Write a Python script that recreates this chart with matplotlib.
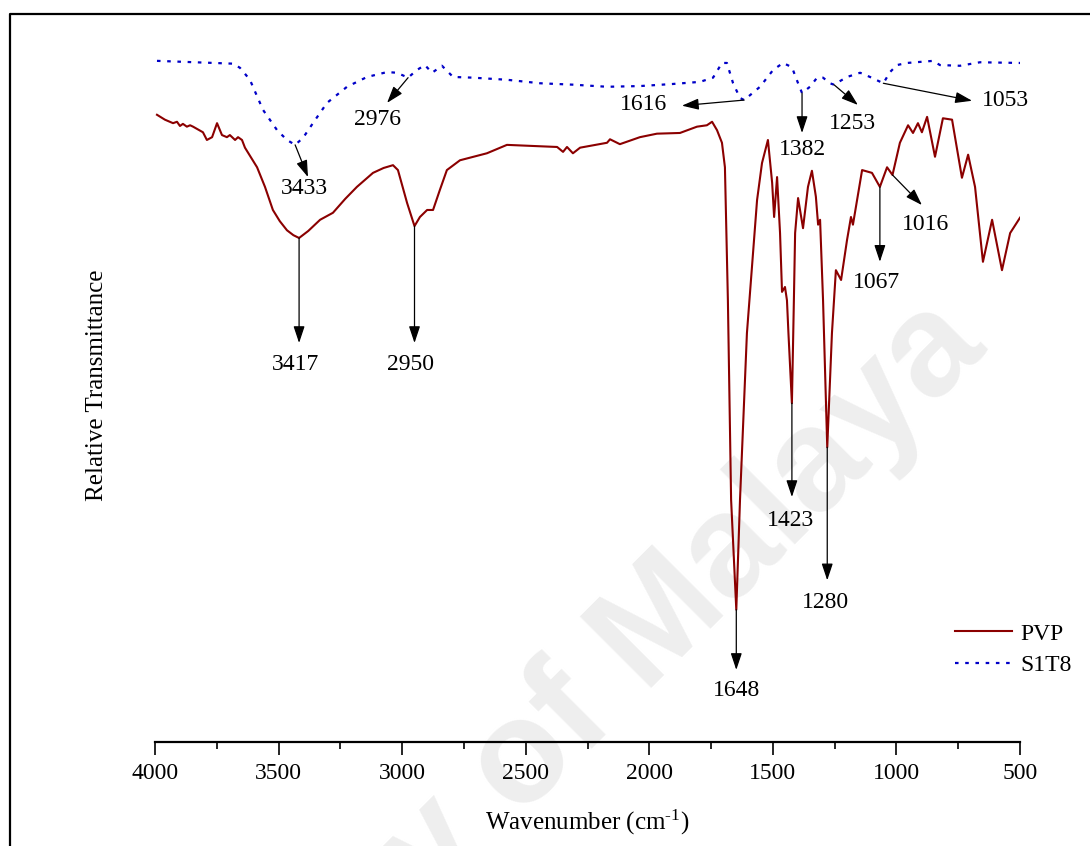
import numpy as np
import matplotlib
matplotlib.use("Agg")
import matplotlib.pyplot as plt
from matplotlib.lines import Line2D
from matplotlib.ticker import MultipleLocator

plt.rcParams["font.family"] = "Liberation Serif"
plt.rcParams["mathtext.default"] = "regular"

# FTIR spectra: wavenumber (cm-1) and relative transmittance (a.u.)
pvp_wn = [3992, 3960, 3927, 3911, 3899, 3887, 3871, 3858, 3846, 3806, 3790, 3769,
          3749, 3729, 3709, 3697, 3676, 3664, 3648, 3636, 3587, 3555, 3523, 3495,
          3466, 3440, 3417, 3380, 3332, 3280, 3230, 3183, 3118, 3075, 3037, 3017,
          2980, 2950, 2928, 2899, 2875, 2847, 2819, 2766, 2657, 2576, 2442, 2373,
          2349, 2333, 2309, 2280, 2171, 2159, 2119, 2038, 1969, 1876, 1807, 1767,
          1746, 1726, 1706, 1694, 1682, 1669, 1648, 1633, 1605, 1564, 1544, 1520,
          1503, 1495, 1483, 1471, 1463, 1451, 1443, 1437, 1423, 1415, 1410, 1398,
          1378, 1358, 1342, 1326, 1317, 1309, 1297, 1280, 1261, 1245, 1224, 1200,
          1184, 1176, 1139, 1099, 1067, 1038, 1016, 986, 953, 933, 913, 897, 876,
          844, 812, 775, 735, 710, 682, 650, 613, 573, 540, 500]
pvp_t = [89.6, 88.9, 88.4, 88.6, 88.0, 88.3, 87.9, 88.1, 87.9, 87.1, 86.0, 86.4,
         88.4, 86.7, 86.4, 86.7, 86.0, 86.4, 86.0, 84.9, 82.1, 79.3, 76.0, 74.4,
         73.1, 72.4, 72.0, 73.0, 74.6, 75.6, 77.6, 79.3, 81.3, 82.0, 82.4, 81.7,
         77.0, 73.7, 75.0, 76.0, 76.0, 78.9, 81.7, 83.1, 84.1, 85.3, 85.1, 85.0,
         84.3, 85.0, 84.1, 84.9, 85.6, 86.1, 85.4, 86.4, 86.9, 87.0, 87.9, 88.1,
         88.6, 87.4, 85.6, 82.1, 63.1, 34.6, 18.9, 34.6, 58.4, 77.4, 82.7, 86.0,
         79.9, 75.0, 80.7, 72.7, 64.3, 65.0, 63.1, 58.4, 48.4, 63.1, 72.7, 77.7,
         73.4, 79.3, 81.6, 77.9, 73.9, 74.6, 63.1, 42.1, 58.4, 67.4, 66.0, 71.7,
         75.0, 73.9, 81.7, 81.3, 79.3, 82.1, 81.0, 85.6, 88.1, 87.0, 88.4, 87.1, 89.3,
         83.6, 89.1, 88.9, 80.6, 83.9, 79.3, 68.6, 74.6, 67.4, 72.7, 74.9]

s1t8_wn = [3992, 3684, 3656, 3616, 3563, 3506, 3466, 3433, 3401, 3361, 3304, 3223,
           3142, 3061, 3021, 2976, 2940, 2908, 2879, 2839, 2794, 2713, 2576, 2442,
           2309, 2171, 2038, 1904, 1795, 1742, 1706, 1686, 1661, 1633, 1616, 1552,
           1499, 1459, 1423, 1398, 1382, 1350, 1321, 1297, 1269, 1253, 1200, 1147,
           1107, 1053, 1026, 998, 957, 852, 824, 743, 662, 500]
s1t8_t = [97.3, 96.9, 96.3, 94.6, 90.3, 87.4, 86.0, 85.3, 86.3, 88.4, 91.3, 93.6,
          95.0, 95.7, 95.6, 94.9, 96.0, 96.7, 95.6, 96.6, 95.0, 94.9, 94.6, 94.1,
          93.9, 93.6, 93.7, 94.0, 94.3, 94.9, 97.0, 97.0, 94.1, 92.0, 91.7, 93.6,
          96.0, 97.0, 96.4, 94.1, 92.7, 93.6, 94.9, 94.9, 94.1, 93.9, 95.0, 95.6,
          95.0, 94.1, 95.7, 96.7, 97.0, 97.3, 96.7, 96.6, 97.1, 97.0]

# band labels: peak wavenumber, arrow tip (wn, T), label centre (wn, T)
pvp_bands = [
    (3417, (3417, 57.0), (3430, 53.9)),
    (2950, (2950, 57.0), (2965, 53.9)),
    (1648, (1648, 10.3), (1648, 7.4)),
    (1423, (1423, 35.0), (1427, 31.7)),
    (1280, (1280, 23.1), (1288, 19.9)),
    (1067, (1067, 68.6), (1079, 65.7)),
    (1016, (897, 76.7), (884, 73.9)),
]
s1t8_bands = [
    (3433, (3381, 80.7), (3397, 79.1)),
    (2976, (3061, 91.3), (3098, 88.9)),
    (1616, (1868, 90.9), (2025, 91.1)),
    (1382, (1382, 87.0), (1382, 84.6)),
    (1253, (1156, 91.0), (1176, 88.4)),
    (1053, (694, 91.6), (557, 91.7)),
]

fig = plt.figure(figsize=(10.9, 8.46), dpi=100)
ax = fig.add_axes([0.1422, 0.1229, 0.7936, 0.8275])
ax.set_facecolor("none")

# faint watermark behind the axes
fig.text(0.907, 0.586, "University of Malaya", rotation=45, rotation_mode="anchor",
         ha="right", va="baseline", fontsize=105, fontweight="bold",
         color="#eeeeee", family="Liberation Sans", zorder=-1)

# outer frame (top and left edges only)
fig.add_artist(Line2D([10 / 1090, 10 / 1090, 1.0], [0.0, 832 / 846, 832 / 846],
                      transform=fig.transFigure, color="k", lw=1.6))

ax.plot(pvp_wn, pvp_t, color="#8b0000", lw=1.5, label="PVP")
ax.plot(s1t8_wn, s1t8_t, color="#0000c8", lw=1.6, ls=(0, (1.6, 3.0)), label="S1T8")

arrow = dict(arrowstyle="-|>,head_length=0.6,head_width=0.2", color="k", lw=0.9,
             mutation_scale=17, shrinkA=0, shrinkB=0)


def label_bands(wn, t, bands):
    wn = np.asarray(wn)[::-1]
    t = np.asarray(t)[::-1]
    for peak, tip, text_pos in bands:
        start = (peak, np.interp(peak, wn, t))
        ax.annotate("", xy=tip, xytext=start, arrowprops=arrow)
        ax.text(text_pos[0], text_pos[1], str(peak), ha="center", va="center",
                fontsize=17)


label_bands(pvp_wn, pvp_t, pvp_bands)
label_bands(s1t8_wn, s1t8_t, s1t8_bands)

ax.set_xlim(4000, 500)
ax.set_ylim(0, 100)
for side in ("top", "right", "left"):
    ax.spines[side].set_visible(False)
ax.spines["bottom"].set_linewidth(1.6)
ax.set_yticks([])
ax.xaxis.set_major_locator(MultipleLocator(500))
ax.xaxis.set_minor_locator(MultipleLocator(250))
ax.tick_params(axis="x", which="major", length=9, width=1.2, labelsize=17, pad=6)
ax.tick_params(axis="x", which="minor", length=5, width=1.2)

ax.set_xlabel("Wavenumber (cm$^{\u20101}$)", fontsize=18)
ax.xaxis.set_label_coords(0.5, -0.094)
ax.set_ylabel("Relative Transmittance", fontsize=18)
ax.yaxis.set_label_coords(-0.054, 0.51)

ax.legend(loc="upper left", bbox_to_anchor=(0.925, 0.170), frameon=False,
          handlelength=2.4, handletextpad=0.35, labelspacing=0.43,
          borderaxespad=0, borderpad=0, fontsize=17)

fig.savefig("out.png", dpi=100)
